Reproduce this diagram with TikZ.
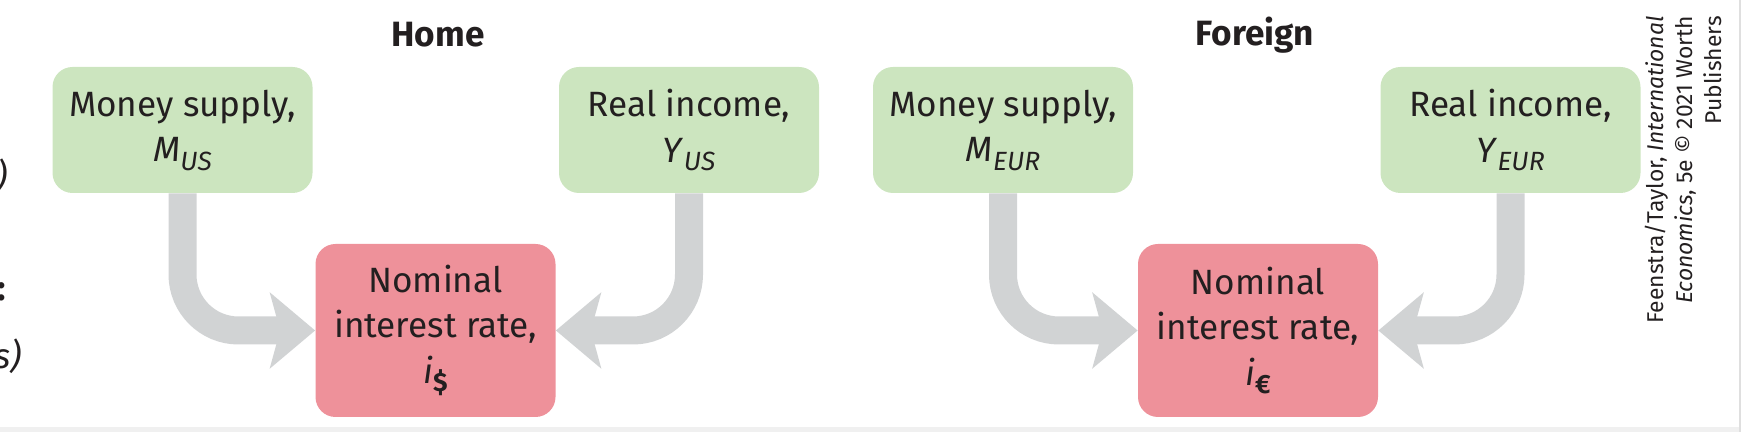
\documentclass[tikz,border=0pt]{standalone}
\usepackage{xcolor}
\usepackage{fontspec}
\setmainfont{Fira Sans}
\usetikzlibrary{arrows.meta}

\definecolor{boxgreen}{HTML}{CCE5BF}
\definecolor{boxred}{HTML}{EE919A}
\definecolor{flowgray}{HTML}{D1D3D4}
\definecolor{inkgray}{HTML}{231F20}

% dropped subscript, as in the figure
\newcommand{\lowsub}[1]{\raisebox{-0.45ex}{\fontsize{15}{15}\selectfont #1}}

\tikzset{
    boxtext/.style={align=center, text=inkgray, font=\fontsize{20}{26}\selectfont},
    inbox/.style={boxtext, fill=boxgreen, rounded corners=0.4cm, minimum width=5.2cm, minimum height=2.52cm},
    ratebox/.style={boxtext, fill=boxred, rounded corners=0.4cm, minimum width=4.8cm, minimum height=3.46cm},
    flow/.style={draw=flowgray, line width=0.56cm, rounded corners=1.12cm, -{Stealth[length=0.9cm, width=1.5cm, inset=0.2cm]}},
    title/.style={text=inkgray, font=\fontsize{20}{24}\selectfont\bfseries},
    cut/.style={boxtext, inner sep=0pt, anchor=east}
}

\begin{document}
\begin{tikzpicture}

        \useasboundingbox (0,0) rectangle (35.04,8.64);
        \fill[gray!12] (0,0) rectangle (34.8,0.1);
        \draw[gray!25, line width=1pt] (34.8,0) -- (34.8,8.64);

        % cut-off text of the panel to the left
        \node[cut] (cutA) at (0.17,5.12) {\textit{)}};
        \node[cut] (cutB) at (0.12,2.8) {\textbf{:}};
        \node[cut] (cutC) at (0.44,1.52) {\textit{s)}};

        \node[title] (home) at (8.76,7.94) {Home};
        \node[title] (foreign) at (25.1,7.94) {Foreign};

        \node[inbox] (mus) at (3.65,6.04) {Money supply,\\\textit{M}\lowsub{\textit{US}}};
        \node[inbox] (yus) at (13.78,6.04) {Real income,\\\textit{Y}\lowsub{\textit{US}}};
        \node[ratebox] (ius) at (8.71,2.03) {Nominal\\interest rate,\\\textit{i}\lowsub{\textbf{\$}}};

        \node[inbox] (meur) at (20.06,6.04) {Money supply,\\\textit{M}\lowsub{\textit{EUR}}};
        \node[inbox] (yeur) at (30.21,6.04) {Real income,\\\textit{Y}\lowsub{\textit{EUR}}};
        \node[ratebox] (ieur) at (25.16,2.03) {Nominal\\interest rate,\\\textit{i}\lowsub{\textbf{€}}};

        \draw[flow] (mus.south) |- (ius.west);
        \draw[flow] (yus.south) |- (ius.east);
        \draw[flow] (meur.south) |- (ieur.west);
        \draw[flow] (yeur.south) |- (ieur.east);

        \node[rotate=90, anchor=east, align=right, text=inkgray, font=\fontsize{13}{16.5}\selectfont] (credit) at (33.66,8.44)
            {Feenstra/Taylor, \textit{International}\\\textit{Economics}, 5e © 2021 Worth\\Publishers};
    \end{tikzpicture}
\end{document}
